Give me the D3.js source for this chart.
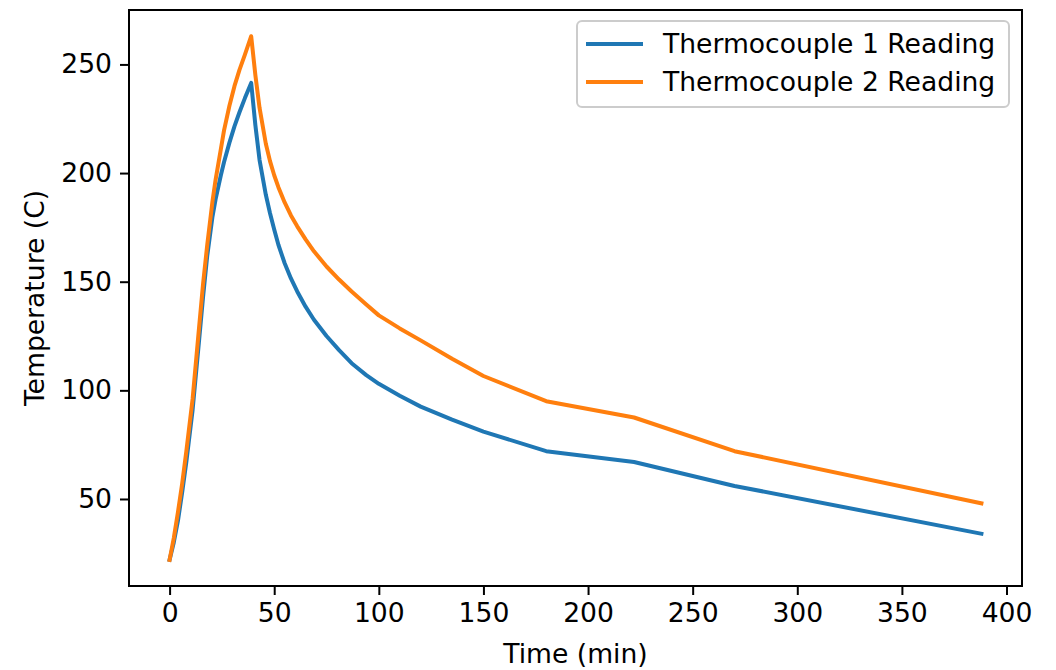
<!DOCTYPE html>
<html>
<head>
<meta charset="utf-8">
<script src="https://cdn.jsdelivr.net/npm/d3@7"></script>
<style>
  body { margin: 0; background: #fff; }
  svg { display: block; font-family: "DejaVu Sans", sans-serif; }
</style>
</head>
<body>
<svg id="chart" width="1056" height="670"></svg>
<script>
// readings, time in minutes
const time = [0, 2, 4, 6, 8, 11, 14, 16, 18, 20.5, 22, 24.5, 26, 28.6, 31, 33.4, 36, 39, 41, 43, 46, 48, 50, 52, 55, 58, 61, 65, 69, 75, 81, 87, 94, 100, 110, 120, 135, 150, 180, 222, 270, 388];
const tc1 = [22, 30, 40, 53, 67, 91, 122, 143, 162, 180, 188, 199, 205, 214, 221.5, 228, 234.5, 241.5, 222, 206, 190, 181.5, 174, 167, 158.5, 151.5, 145.5, 138.5, 132.5, 125, 118.5, 112.5, 107, 103, 97.5, 92.5, 86.5, 81, 72, 67, 56, 34];
const tc2 = [22, 32, 44, 57, 72, 96, 128, 149, 167, 187, 197, 211, 219.5, 231, 240, 247.5, 254.5, 263, 245, 230, 213.5, 205.5, 199, 193.5, 186.5, 180.5, 175.5, 169.5, 164, 157, 151, 145.5, 139.5, 134.5, 128.5, 123, 114.5, 106.6, 95, 87.5, 72, 48];
const seriesNames = ['Thermocouple 1 Reading', 'Thermocouple 2 Reading'];
const seriesColors = ['#1f77b4', '#ff7f0e'];
const xTicks = [0, 50, 100, 150, 200, 250, 300, 350, 400];
const yTicks = [50, 100, 150, 200, 250];

const fontSize = 26.6;
const margin = { left: 129, right: 1022, top: 10, bottom: 586 };

const svg = d3.select('#chart');

// matplotlib-like 5% padding
function padded(ext) {
  const d = (ext[1] - ext[0]) * 0.05;
  return [ext[0] - d, ext[1] + d];
}
const allY = tc1.concat(tc2);
const x = d3.scaleLinear().domain(padded(d3.extent(time))).range([margin.left, margin.right]);
const y = d3.scaleLinear().domain(padded(d3.extent(allY))).range([margin.bottom, margin.top]);

const series = [tc1, tc2].map(function(vals, i) {
  return {
    name: seriesNames[i],
    color: seriesColors[i],
    points: time.map(function(t, j) { return [t, vals[j]]; })
  };
});

const line = d3.line()
  .x(function(d) { return x(d[0]); })
  .y(function(d) { return y(d[1]); });

svg.append('defs').append('clipPath').attr('id', 'clip')
  .append('rect')
  .attr('x', margin.left).attr('y', margin.top)
  .attr('width', margin.right - margin.left)
  .attr('height', margin.bottom - margin.top);

svg.append('g')
  .attr('clip-path', 'url(#clip)')
  .selectAll('path')
  .data(series)
  .enter()
  .append('path')
  .attr('d', function(d) { return line(d.points); })
  .attr('fill', 'none')
  .attr('stroke', function(d) { return d.color; })
  .attr('stroke-width', 4)
  .attr('stroke-linejoin', 'round')
  .attr('stroke-linecap', 'square');

// axes
const xAxis = svg.append('g')
  .attr('transform', 'translate(0,' + margin.bottom + ')')
  .call(d3.axisBottom(x).tickValues(xTicks).tickSize(9).tickPadding(8).tickFormat(d3.format('d')));
const yAxis = svg.append('g')
  .attr('transform', 'translate(' + margin.left + ',0)')
  .call(d3.axisLeft(y).tickValues(yTicks).tickSize(9).tickPadding(8).tickFormat(d3.format('d')));

[xAxis, yAxis].forEach(function(ax) {
  ax.select('.domain').remove();
  ax.selectAll('.tick line').attr('stroke', '#000').attr('stroke-width', 2);
  ax.selectAll('.tick text')
    .attr('fill', '#000')
    .style('font-size', fontSize + 'px')
    .style('font-family', '"DejaVu Sans", sans-serif');
});

// frame
svg.append('rect')
  .attr('x', margin.left).attr('y', margin.top)
  .attr('width', margin.right - margin.left)
  .attr('height', margin.bottom - margin.top)
  .attr('fill', 'none')
  .attr('stroke', '#000')
  .attr('stroke-width', 2);

// axis labels
svg.append('text')
  .attr('x', (margin.left + margin.right) / 2)
  .attr('y', 663)
  .attr('text-anchor', 'middle')
  .style('font-size', fontSize + 'px')
  .text('Time (min)');

svg.append('text')
  .attr('transform', 'translate(44,' + (margin.top + margin.bottom) / 2 + ') rotate(-90)')
  .attr('text-anchor', 'middle')
  .style('font-size', fontSize + 'px')
  .text('Temperature (C)');

// legend
const legend = svg.append('g').attr('transform', 'translate(577,21)');
legend.append('rect')
  .attr('width', 432).attr('height', 86)
  .attr('rx', 5).attr('ry', 5)
  .attr('fill', '#fff')
  .attr('fill-opacity', 0.8)
  .attr('stroke', '#ccc')
  .attr('stroke-width', 2);

const rows = legend.selectAll('g.row')
  .data(series)
  .enter()
  .append('g')
  .attr('class', 'row')
  .attr('transform', function(d, i) { return 'translate(0,' + (23 + i * 38) + ')'; });

rows.append('line')
  .attr('x1', 11).attr('x2', 64)
  .attr('stroke', function(d) { return d.color; })
  .attr('stroke-width', 4)
  .attr('stroke-linecap', 'square');

rows.append('text')
  .attr('x', 86)
  .attr('dy', '0.35em')
  .style('font-size', fontSize + 'px')
  .text(function(d) { return d.name; });
</script>
</body>
</html>
